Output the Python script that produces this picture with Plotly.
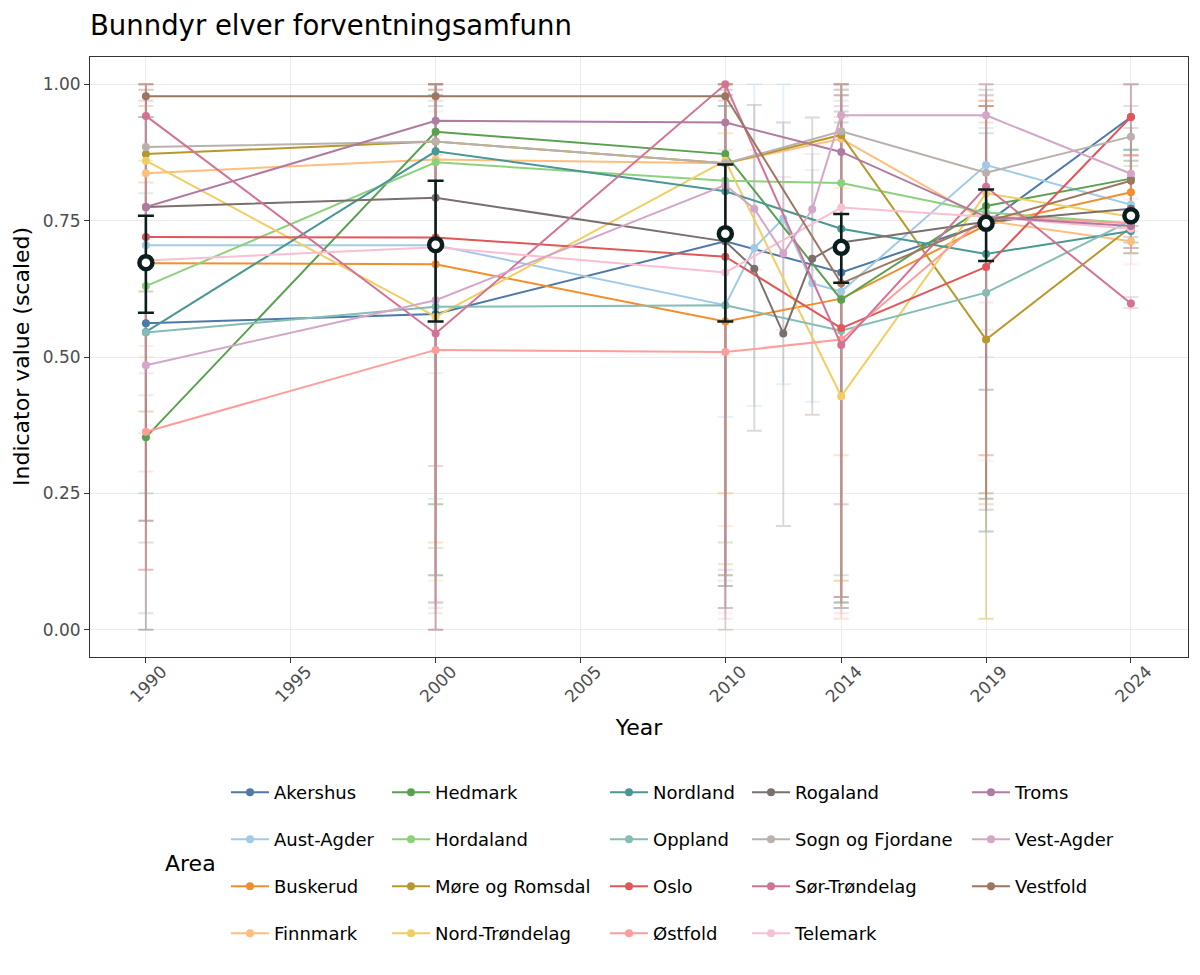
import plotly.graph_objects as go

# ---------------- data ----------------
AREAS = ["Akershus", "Aust-Agder", "Buskerud", "Finnmark", "Hedmark", "Hordaland",
         "Møre og Romsdal", "Nord-Trøndelag", "Nordland", "Oppland", "Oslo", "Østfold",
         "Rogaland", "Sogn og Fjordane", "Sør-Trøndelag", "Telemark", "Troms",
         "Vest-Agder", "Vestfold"]

COLORS = ["#4E79A7", "#A0CBE8", "#F28E2B", "#FFBE7D", "#59A14F", "#8CD17D",
          "#B6992D", "#F1CE63", "#499894", "#86BCB6", "#E15759", "#FF9D9A",
          "#79706E", "#BAB0AC", "#D37295", "#FABFD2", "#B07AA1", "#D4A6C8", "#9D7660"]

YEARS_MAIN = [1990, 2000, 2010, 2014, 2019, 2024]

val_1990 = [0.562, 0.705, 0.672, 0.837, 0.353, 0.630, 0.872, 0.860, 0.546, 0.545, 0.720, 0.363, 0.775, 0.885, 0.942, 0.677, 0.775, 0.485, 0.978]
val_2000 = [0.579, 0.705, 0.670, 0.862, 0.913, 0.857, 0.895, 0.574, 0.877, 0.592, 0.719, 0.513, 0.792, 0.895, 0.543, 0.701, 0.933, 0.604, 0.978]
val_2010 = [0.712, 0.595, 0.565, 0.855, 0.872, 0.823, 0.855, 0.860, 0.804, 0.595, 0.684, 0.509, 0.712, 0.855, 1.000, 0.655, 0.930, 0.815, 0.978]
val_2014 = [0.655, 0.620, 0.607, 0.900, 0.605, 0.819, 0.907, 0.428, 0.735, 0.548, 0.553, 0.532, 0.710, 0.914, 0.522, 0.774, 0.876, 0.943, 0.635]
val_2019 = [0.745, 0.852, 0.742, 0.750, 0.777, 0.765, 0.532, 0.800, 0.689, 0.618, 0.665, 0.758, 0.748, 0.838, 0.812, 0.757, 0.757, 0.943, 0.748]
val_2024 = [0.940, 0.779, 0.802, 0.712, 0.827, 0.745, 0.738, 0.757, 0.731, 0.750, 0.940, 0.745, 0.772, 0.904, 0.598, 0.735, 0.740, 0.836, 0.823]

lo_1990 = [0.00, 0.40, 0.40, 0.52, 0.16, 0.36, 0.20, 0.50, 0.25, 0.03, 0.11, 0.29, 0.20, 0.43, 0.11, 0.03, 0.20, 0.47, 0.00]
hi_1990 = [0.94, 0.94, 0.82, 0.99, 0.62, 0.86, 1.00, 0.96, 0.94, 0.80, 0.97, 0.62, 0.99, 1.00, 1.00, 0.94, 1.00, 0.96, 1.00]
lo_2000 = [0.10, 0.47, 0.16, 0.23, 0.10, 0.23, 0.15, 0.09, 0.23, 0.24, 0.30, 0.04, 0.05, 0.03, 0.00, 0.05, 0.00, 0.05, 0.00]
hi_2000 = [0.98, 0.96, 0.87, 1.00, 1.00, 0.99, 1.00, 0.95, 0.98, 0.96, 0.99, 0.97, 1.00, 1.00, 1.00, 0.97, 1.00, 0.99, 1.00]
lo_2010 = [0.08, 0.39, 0.25, 0.19, 0.16, 0.10, 0.12, 0.25, 0.08, 0.10, 0.10, 0.08, 0.04, 0.09, 0.11, 0.03, 0.04, 0.02, 0.00]
hi_2010 = [0.96, 0.99, 0.91, 0.98, 1.00, 0.98, 1.00, 1.00, 0.96, 0.88, 0.97, 0.93, 0.98, 0.99, 1.00, 0.98, 1.00, 0.99, 1.00]
lo_2014 = [0.04, 0.06, 0.32, 0.02, 0.10, 0.05, 0.09, 0.09, 0.05, 0.06, 0.06, 0.03, 0.04, 0.06, 0.06, 0.02, 0.23, 0.23, 0.05]
hi_2014 = [0.95, 0.98, 0.94, 1.00, 0.98, 0.99, 1.00, 0.81, 0.99, 0.97, 0.98, 1.00, 0.93, 1.00, 1.00, 0.99, 0.96, 1.00, 1.00]
lo_2019 = [0.18, 0.50, 0.32, 0.23, 0.24, 0.25, 0.02, 0.02, 0.44, 0.18, 0.25, 0.23, 0.22, 0.55, 0.32, 0.31, 0.44, 0.60, 0.24]
hi_2019 = [0.96, 0.98, 0.93, 0.97, 0.96, 0.94, 0.97, 0.96, 0.91, 0.92, 0.96, 0.97, 0.99, 1.00, 0.96, 0.98, 0.98, 1.00, 1.00]
lo_2024 = [0.87, 0.73, 0.74, 0.69, 0.71, 0.70, 0.69, 0.70, 0.69, 0.71, 0.87, 0.70, 0.72, 0.76, 0.59, 0.67, 0.70, 0.70, 0.74]
hi_2024 = [1.00, 0.88, 0.87, 0.79, 0.88, 0.86, 0.85, 0.87, 0.88, 0.88, 1.00, 0.87, 0.86, 1.00, 0.61, 0.87, 0.96, 1.00, 0.92]

# Extra survey years only present for a few areas
INTERMEDIATE_AREAS = ["Aust-Agder", "Rogaland", "Vest-Agder"]
INTERMEDIATE_YEARS = [2011, 2012, 2013]
val_2011 = [0.700, 0.662, 0.772]
lo_2011 = [0.41, 0.365, 0.66]
hi_2011 = [1.00, 0.962, 0.88]
val_2012 = [0.754, 0.543, 0.690]
lo_2012 = [0.45, 0.19, 0.55]
hi_2012 = [1.00, 0.93, 0.83]
val_2013 = [0.635, 0.680, 0.771]
lo_2013 = [0.418, 0.394, 0.66]
hi_2013 = [0.843, 0.939, 0.872]

# Overall mean with uncertainty
MEAN_YEARS = [1990, 2000, 2010, 2014, 2019, 2024]
mean_val = [0.673, 0.706, 0.726, 0.701, 0.745, 0.759]
mean_lo = [0.581, 0.565, 0.565, 0.636, 0.676, 0.757]
mean_hi = [0.759, 0.823, 0.853, 0.762, 0.807, 0.761]

X_TICKS = [1990, 1995, 2000, 2005, 2010, 2014, 2019, 2024]
Y_TICKS = [0.0, 0.25, 0.5, 0.75, 1.0]

# ---------------- build ----------------
main_val = [val_1990, val_2000, val_2010, val_2014, val_2019, val_2024]
main_lo = [lo_1990, lo_2000, lo_2010, lo_2014, lo_2019, lo_2024]
main_hi = [hi_1990, hi_2000, hi_2010, hi_2014, hi_2019, hi_2024]
mid_val = [val_2011, val_2012, val_2013]
mid_lo = [lo_2011, lo_2012, lo_2013]
mid_hi = [hi_2011, hi_2012, hi_2013]


def rgba(hexc, a):
    h = hexc.lstrip("#")
    r, g, b = int(h[0:2], 16), int(h[2:4], 16), int(h[4:6], 16)
    return f"rgba({r},{g},{b},{a})"


series = []
for i, area in enumerate(AREAS):
    xs, ys, los, his = [], [], [], []
    for k, yr in enumerate(YEARS_MAIN):
        if yr == 2014 and area in INTERMEDIATE_AREAS:
            j = INTERMEDIATE_AREAS.index(area)
            for m, yy in enumerate(INTERMEDIATE_YEARS):
                xs.append(yy); ys.append(mid_val[m][j]); los.append(mid_lo[m][j]); his.append(mid_hi[m][j])
        xs.append(yr); ys.append(main_val[k][i]); los.append(main_lo[k][i]); his.append(main_hi[k][i])
    series.append((xs, ys, los, his))

fig = go.Figure()

# error bars (drawn below all lines)
for i, area in enumerate(AREAS):
    xs, ys, los, his = series[i]
    fig.add_trace(go.Scatter(
        x=xs, y=ys, mode="markers",
        marker=dict(size=1, opacity=0),
        error_y=dict(type="data", symmetric=False,
                     array=[h - v for h, v in zip(his, ys)],
                     arrayminus=[v - l for v, l in zip(ys, los)],
                     color=rgba(COLORS[i], 0.26), thickness=2, width=7.5),
        showlegend=False, hoverinfo="skip",
    ))

# area lines + points
for i, area in enumerate(AREAS):
    xs, ys, los, his = series[i]
    col = i // 4
    leg = "legend" if col == 0 else f"legend{col + 1}"
    fig.add_trace(go.Scatter(
        x=xs, y=ys, mode="lines+markers", name=area,
        line=dict(color=COLORS[i], width=2),
        marker=dict(color=COLORS[i], size=8),
        legend=leg, legendgroup=area,
    ))

# mean
DARK = "#0B1E1E"
fig.add_trace(go.Scatter(
    x=MEAN_YEARS, y=mean_val, mode="markers",
    marker=dict(symbol="circle", size=13, color="white", line=dict(color=DARK, width=4.5)),
    error_y=dict(type="data", symmetric=False,
                 array=[h - v for h, v in zip(mean_hi, mean_val)],
                 arrayminus=[v - l for v, l in zip(mean_val, mean_lo)],
                 color=DARK, thickness=2.5, width=8),
    showlegend=False,
))

FONT = "DejaVu Sans"
TEXT_X = [275, 436, 654, 796, 1016]
legends = {}
for c, tx in enumerate(TEXT_X):
    key = "legend" if c == 0 else f"legend{c + 1}"
    n_items = len(AREAS[c * 4:(c + 1) * 4])
    mid_y = 863 if n_items == 4 else 839.5
    legends[key] = dict(
        xref="container", yref="container",
        x=(tx - 49) / 1200, xanchor="left",
        y=1 - mid_y / 975, yanchor="middle",
        orientation="v", tracegroupgap=20.6, itemwidth=38,
        font=dict(family=FONT, size=18, color="#000000"),
        bgcolor="rgba(0,0,0,0)", borderwidth=0,
    )

fig.update_layout(
    width=1200, height=975,
    margin=dict(l=90, r=12, t=57, b=318, autoexpand=False),
    paper_bgcolor="white", plot_bgcolor="white",
    font=dict(family=FONT, color="#000000"),
    title=dict(text="Bunndyr elver forventningsamfunn",
               x=90 / 1200, xanchor="left", xref="container",
               y=1 - 25 / 975, yanchor="middle", yref="container",
               font=dict(family=FONT, size=27.5, color="#000000")),
    showlegend=True,
    **legends,
    xaxis=dict(
        range=[1988.07, 2025.97], tickmode="array", tickvals=X_TICKS,
        ticktext=[str(t) for t in X_TICKS], tickangle=-45,
        ticks="outside", ticklen=5, tickcolor="#333333", tickwidth=1,
        tickfont=dict(family=FONT, size=17, color="#4D4D4D"),
        showgrid=True, gridcolor="#EBEBEB", gridwidth=1.2, zeroline=False,
        showline=True, linecolor="#333333", linewidth=1, mirror=True,
        title=dict(text="Year", font=dict(family=FONT, size=22, color="#000000"), standoff=14),
        automargin=False, ticklabelshift=16, ticklabelstandoff=-8,
    ),
    yaxis=dict(
        range=[-0.05, 1.05], tickmode="array", tickvals=Y_TICKS,
        tickformat=".2f",
        ticks="outside", ticklen=5, tickcolor="#333333", tickwidth=1,
        tickfont=dict(family=FONT, size=17, color="#4D4D4D"),
        showgrid=True, gridcolor="#EBEBEB", gridwidth=1.2, zeroline=False,
        showline=True, linecolor="#333333", linewidth=1, mirror=True,
        automargin=False,
    ),
    annotations=[
        dict(text="Area", xref="paper", yref="paper",
             x=(190 - 90) / 1098, y=(657 - 863) / 600,
             xanchor="center", yanchor="middle", showarrow=False,
             font=dict(family=FONT, size=22, color="#000000")),
        dict(text="Indicator value (scaled)", xref="paper", yref="paper",
             x=(21 - 90) / 1098, y=0.5, textangle=-90,
             xanchor="center", yanchor="middle", showarrow=False,
             font=dict(family=FONT, size=22, color="#000000")),
    ],
)

fig.write_html("out.html", config={"displayModeBar": False},
               post_script="document.body.style.margin='0px';")
